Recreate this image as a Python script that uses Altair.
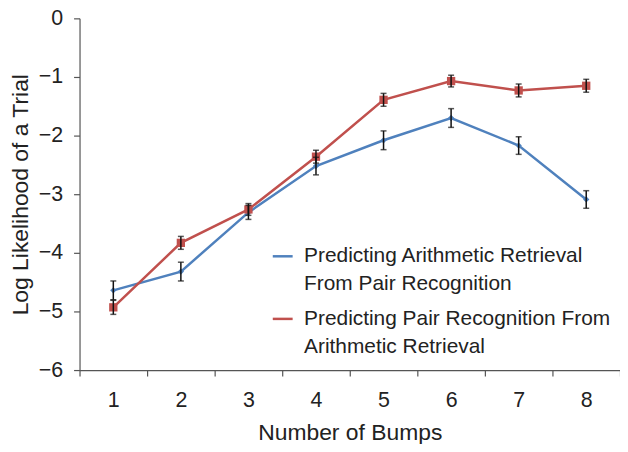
import altair as alt
import pandas as pd

bumps = [1, 2, 3, 4, 5, 6, 7, 8]
series_names = ["Predicting Arithmetic Retrieval|From Pair Recognition",
                "Predicting Pair Recognition From|Arithmetic Retrieval"]
arith_mean = [-4.64, -4.32, -3.31, -2.52, -2.08, -1.70, -2.17, -3.09]
arith_err = [0.16, 0.16, 0.12, 0.15, 0.16, 0.16, 0.15, 0.15]
pair_mean = [-4.93, -3.83, -3.26, -2.36, -1.39, -1.07, -1.23, -1.15]
pair_err = [0.12, 0.11, 0.10, 0.11, 0.11, 0.10, 0.11, 0.11]
y_ticks = [0, -1, -2, -3, -4, -5, -6]

rows = []
for name, m, e in [(series_names[0], arith_mean, arith_err), (series_names[1], pair_mean, pair_err)]:
    for b, mv, ev in zip(bumps, m, e):
        rows.append({"bump": b, "series": name, "mean": mv, "lo": mv - ev, "hi": mv + ev})
df = pd.DataFrame(rows)

FONT = "Liberation Sans, Arial, sans-serif"
colors = ["#4f81bd", "#c0504d"]

x = alt.X("bump:O", scale=alt.Scale(type="band", paddingInner=0, paddingOuter=0),
          bandPosition=0.5,
          axis=alt.Axis(title="Number of Bumps", labelAngle=0, tickBand="extent",
                        labelPadding=14, titlePadding=10, titleFontSize=23))
yscale = alt.Scale(domain=[-6, 0], nice=False)
y = alt.Y("mean:Q", scale=yscale,
          axis=alt.Axis(title="Log Likelihood of a Trial", values=y_ticks, format="d",
                        labelExpr="replace(datum.label, '-', '\u2212')",
                        labelPadding=11, titlePadding=6, titleFontSize=23))
color = alt.Color("series:N", scale=alt.Scale(domain=series_names, range=colors),
                  legend=alt.Legend(title=None, orient="none", legendX=193, legendY=228,
                                    labelExpr="split(datum.label, '|')",
                                    symbolType="stroke", symbolSize=400, symbolStrokeWidth=2.5,
                                    labelFontSize=21, labelFont=FONT, labelColor="#222",
                                    labelLimit=400, rowPadding=13, labelBaseline="middle",
                                    labelOffset=10))

base = alt.Chart(df)
lines = base.mark_line(strokeWidth=2.5).encode(x=x, y=y, color=color)
pts_a = base.transform_filter(alt.datum.series == series_names[0]).mark_point(
    shape="diamond", filled=True, size=40, opacity=1).encode(
    x=x, y="mean:Q", color=alt.Color("series:N", scale=alt.Scale(domain=series_names, range=colors), legend=None))
pts_b = base.transform_filter(alt.datum.series == series_names[1]).mark_point(
    shape="square", filled=True, size=70, opacity=1).encode(
    x=x, y="mean:Q", color=alt.Color("series:N", scale=alt.Scale(domain=series_names, range=colors), legend=None))
err = base.mark_rule(color="#111", strokeWidth=1.5).encode(x=x, y="lo:Q", y2="hi:Q")
cap_lo = base.mark_tick(color="#111", size=6, thickness=1.5, orient="horizontal").encode(x=x, y="lo:Q")
cap_hi = base.mark_tick(color="#111", size=6, thickness=1.5, orient="horizontal").encode(x=x, y="hi:Q")

chart = alt.layer(lines, pts_a, pts_b, err, cap_lo, cap_hi).properties(
    width=544, height=354,
    autosize=alt.AutoSizeParams(type="none"),
    padding={"left": 72, "top": 9, "right": 0, "bottom": 73},
).configure(
    style={"guide-label": {"lineHeight": 28}}
).configure_view(stroke=None).configure_axis(
    grid=False, domainColor="#555", tickColor="#555", domainWidth=1.2, tickWidth=1.2,
    tickSize=6, labelFont=FONT, titleFont=FONT, labelFontSize=21.5,
    labelColor="#222", titleColor="#222", titleFontWeight="normal"
)

chart.save("out.html", embed_options={"renderer": "svg", "actions": False})
